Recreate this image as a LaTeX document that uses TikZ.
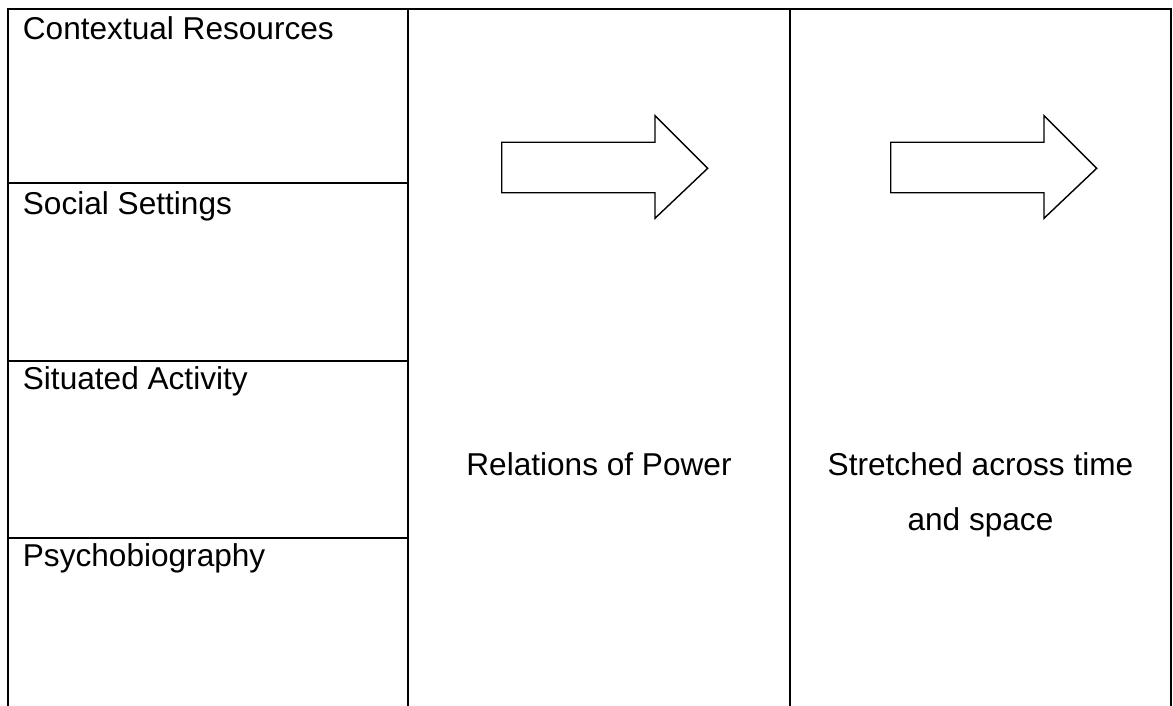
\documentclass[tikz,border=0pt]{standalone}
\usepackage{fontspec}
\setmainfont{Liberation Sans}
\begin{document}
\begin{tikzpicture}[x=0.5pt,y=-0.5pt,
  grid/.style={line width=1.2pt,line cap=rect},
  bigarrow/.style={draw,line width=0.7pt,line join=miter,fill=white},
  lbl/.style={inner sep=0pt,font=\fontsize{15.8}{27.5}\selectfont}]
\useasboundingbox (0,0) rectangle (1173,706);
% grid
\draw[grid] (8,706) -- (8,9) -- (1171,9) -- (1171,706);
\draw[grid] (408,9) -- (408,706);
\draw[grid] (790,9) -- (790,706);
\draw[grid] (8,183) -- (408,183);
\draw[grid] (8,361) -- (408,361);
\draw[grid] (8,538) -- (408,538);
% labels
\node[lbl,anchor=base west] (cr) at (22.5,40) {Contextual Resources};
\node[lbl,anchor=base west] (ss) at (22.5,214) {Social Settings};
\node[lbl,anchor=base west] (sa) at (22.5,389) {Situated Activity};
\node[lbl,anchor=base west] (pb) at (22.5,566.5) {Psychobiography};
\node[lbl,anchor=base] (rp) at (599,475) {Relations of Power};
\node[lbl,anchor=base,align=center] (st) at (980.5,530) {Stretched across time\\and space};
% arrows
\draw[bigarrow] (501.7,142.3) -- (655,142.3) -- (655,115.7) -- (707.7,168.3) -- (655,218.3) -- (655,192.7) -- (501.7,192.7) -- cycle;
\draw[bigarrow] (890.7,142.3) -- (1044,142.3) -- (1044,115.7) -- (1096.7,168.3) -- (1044,218.3) -- (1044,192.7) -- (890.7,192.7) -- cycle;
\end{tikzpicture}
\end{document}
